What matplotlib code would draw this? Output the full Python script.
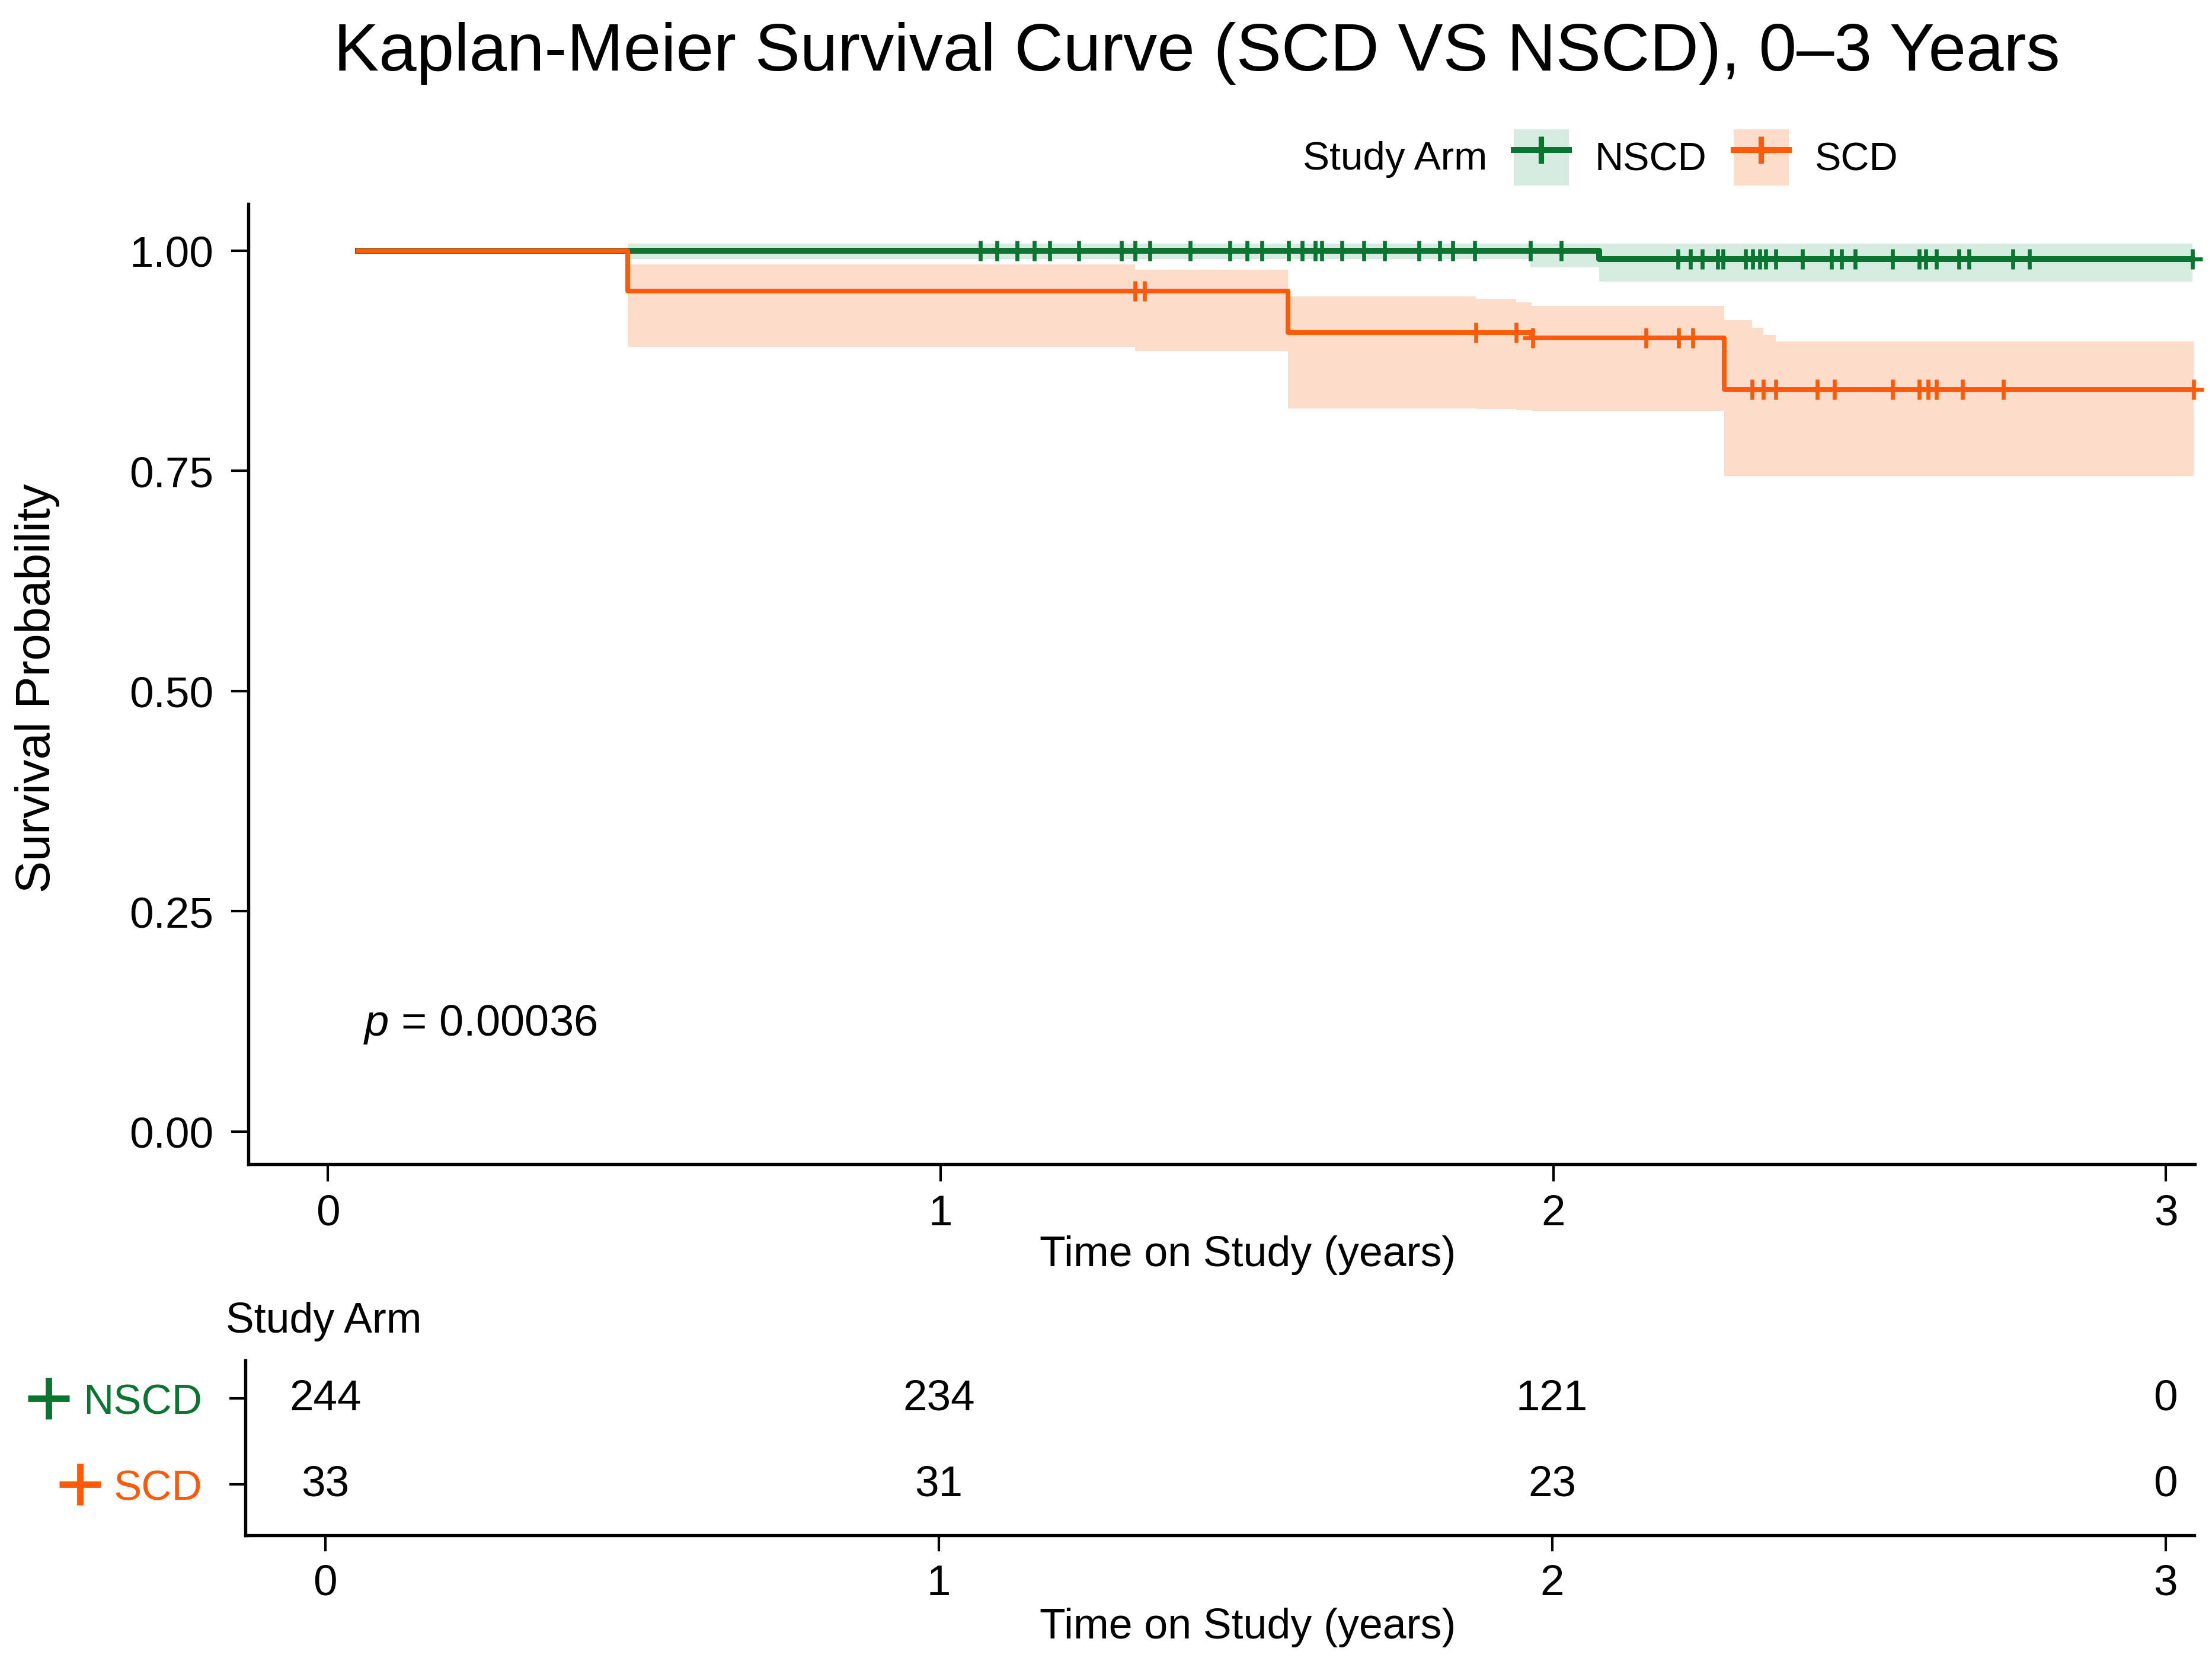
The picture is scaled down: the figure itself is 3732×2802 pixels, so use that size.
import numpy as np
import matplotlib
matplotlib.use("Agg")
import matplotlib.pyplot as plt
from matplotlib.lines import Line2D
from matplotlib.patches import Patch
from matplotlib.legend_handler import HandlerTuple
from matplotlib.transforms import blended_transform_factory

plt.rcParams['font.family'] = ['Liberation Sans', 'DejaVu Sans']
plt.rcParams['mathtext.fontset'] = 'custom'
plt.rcParams['mathtext.it'] = 'Liberation Sans:italic'
plt.rcParams['mathtext.rm'] = 'Liberation Sans'

# ---- data ----
arms = ["NSCD", "SCD"]

# NSCD step curve
nscd_t = [0.049, 2.075]
nscd_s = [1.000, 0.990]
nscd_end = 3.043
nscd_censor = [1.065, 1.092, 1.125, 1.153, 1.178, 1.226, 1.295, 1.317, 1.342,
               1.407, 1.472, 1.500, 1.524, 1.568, 1.590, 1.612, 1.622, 1.655,
               1.691, 1.725, 1.781, 1.815, 1.836, 1.872, 1.963, 2.013,
               2.204, 2.224, 2.243, 2.268, 2.277, 2.314, 2.325, 2.337, 2.347,
               2.363, 2.407, 2.454, 2.471, 2.493, 2.554, 2.597, 2.608, 2.625,
               2.662, 2.679, 2.750, 2.777, 3.043]
nscd_ci_t = [0.489, 1.963, 2.075, 3.043]
nscd_ci_up = [1.008, 1.008, 1.008, 1.008]
nscd_ci_lo = [0.990, 0.981, 0.965, 0.965]

# SCD step curve
scd_t = [0.049, 0.489, 1.567, 1.965, 2.279]
scd_s = [1.000, 0.954, 0.907, 0.901, 0.842]
scd_end = 3.045
scd_censor = [1.317, 1.333, 1.874, 1.939, 1.967, 2.151, 2.205, 2.228, 2.324,
              2.343, 2.363, 2.431, 2.459, 2.554, 2.597, 2.612, 2.625, 2.668,
              2.735, 3.045]
scd_ci_t = [0.489, 1.317, 1.567, 1.874, 1.939, 1.965, 2.279, 2.324, 2.343, 2.363, 3.045]
scd_ci_up = [0.984, 0.978, 0.948, 0.945, 0.941, 0.937, 0.921, 0.912, 0.904, 0.897, 0.897]
scd_ci_lo = [0.891, 0.886, 0.821, 0.820, 0.819, 0.818, 0.744, 0.744, 0.744, 0.744, 0.744]

# numbers at risk
risk_times = [0, 1, 2, 3]
nscd_risk = [244, 234, 121, 0]
scd_risk = [33, 31, 23, 0]

p_text = "0.00036"

green = "#0A7530"
orange = "#FF5A0A"
green_band = "#D7ECE0"
orange_band = "#FDDDCA"

xlim = (-0.130, 3.047)


def surv_at(times, surv, t):
    idx = np.searchsorted(times, t, side='right') - 1
    return np.array(surv)[idx]


fig = plt.figure(figsize=(12.44, 9.343), dpi=300)
ax = fig.add_axes([0.1122, 0.299, 0.880, 0.578])

# confidence bands
for ct, up, lo, col in [(nscd_ci_t, nscd_ci_up, nscd_ci_lo, green_band),
                        (scd_ci_t, scd_ci_up, scd_ci_lo, orange_band)]:
    ax.fill_between(ct, lo, up, step='post', color=col, lw=0, zorder=1)

# curves
for st, ss, end, cens, col, lw in [(nscd_t, nscd_s, nscd_end, nscd_censor, green, 2.4),
                                   (scd_t, scd_s, scd_end, scd_censor, orange, 1.9)]:
    xs = list(st) + [end]
    ys = list(ss) + [ss[-1]]
    ax.step(xs, ys, where='post', color=col, lw=lw, zorder=3)
    cens = np.array(cens)
    ax.plot(cens, surv_at(st, ss, cens), ls='none', marker='+', ms=8,
            mew=1.6, color=col, zorder=4, clip_on=False)

ax.set_xlim(*xlim)
ax.set_ylim(-0.037, 1.053)
ax.set_xticks(risk_times)
ax.set_yticks([0, 0.25, 0.5, 0.75, 1.0])
ax.set_yticklabels(["0.00", "0.25", "0.50", "0.75", "1.00"])
for s in ['top', 'right']:
    ax.spines[s].set_visible(False)
for s in ['left', 'bottom']:
    ax.spines[s].set_linewidth(1.3)
ax.tick_params(axis='both', length=7, width=1.0, labelsize=17.5)
ax.tick_params(axis='y', pad=7)
ax.tick_params(axis='x', pad=5)

ax.text(0.058, 0.122, r"$\it{p}$ = " + p_text, fontsize=17.8, va='center', ha='left')

fig.text(0.541, 0.968, "Kaplan-Meier Survival Curve (SCD VS NSCD), 0\u20133 Years",
         ha='center', va='center', fontsize=27.4)
fig.text(0.017, 0.586, "Survival Probability", rotation=90, ha='center',
         va='center', fontsize=19.5)
fig.text(0.564, 0.2445, "Time on Study (years)", ha='center', va='center', fontsize=17.2)

# legend
fig.text(0.589, 0.904, "Study Arm", ha='left', va='center', fontsize=16.2)
handles = [(Patch(facecolor=green_band, edgecolor='none'),
            Line2D([], [], color=green, lw=2.4, marker='+', ms=11, mew=2.2)),
           (Patch(facecolor=orange_band, edgecolor='none'),
            Line2D([], [], color=orange, lw=2.4, marker='+', ms=11, mew=2.2))]
fig.legend(handles, arms, loc='center left', bbox_to_anchor=(0.6843, 0.905),
           ncol=2, frameon=False, fontsize=16, handlelength=1.4,
           handleheight=1.8, handletextpad=0.65, columnspacing=0.68,
           borderpad=0, borderaxespad=0,
           handler_map={tuple: HandlerTuple(ndivide=1)})

# risk table
tab = fig.add_axes([0.111, 0.0756, 0.881, 0.1052])
tab.set_xlim(*xlim)
tab.set_ylim(0.41, 2.44)
for x, a, b in zip(risk_times, nscd_risk, scd_risk):
    tab.text(x, 2, str(a), ha='center', va='center', fontsize=17.5)
    tab.text(x, 1, str(b), ha='center', va='center', fontsize=17.5)
tab.set_xticks(risk_times)
tab.set_yticks([2, 1])
tab.set_yticklabels(arms)
for lab, col in zip(tab.get_yticklabels(), [green, orange]):
    lab.set_color(col)
for s in ['top', 'right']:
    tab.spines[s].set_visible(False)
for s in ['left', 'bottom']:
    tab.spines[s].set_linewidth(1.3)
tab.tick_params(axis='y', length=6.5, width=1.0, labelsize=17, pad=11)
tab.tick_params(axis='x', length=6.5, width=1.0, labelsize=17.5, pad=5)
trans = blended_transform_factory(tab.transAxes, tab.transData)
tab.plot([-0.101], [2], ls='none', marker='+', ms=17, mew=2.6,
         color=green, transform=trans, clip_on=False)
tab.plot([-0.085], [1], ls='none', marker='+', ms=17, mew=2.6,
         color=orange, transform=trans, clip_on=False)

fig.text(0.102, 0.2046, "Study Arm", ha='left', va='center', fontsize=17.2)
fig.text(0.564, 0.0204, "Time on Study (years)", ha='center', va='center', fontsize=17.2)

fig.savefig("out.png", dpi=300)
